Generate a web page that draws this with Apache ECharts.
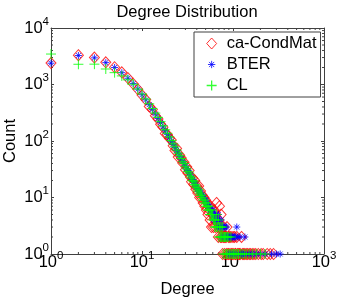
<!DOCTYPE html>
<html><head><meta charset="utf-8">
<script src="https://cdn.jsdelivr.net/npm/echarts@6/dist/echarts.min.js"></script>
<style>html,body{margin:0;padding:0;background:#fff}#c{width:359px;height:299px}</style>
</head><body><div id="c"></div>
<script>
// ---- data (degree, count) ----
const condDeg = [1,2,3,4,5,6,7,8,9,10,11,12,13,14,15,16,17,18,19,20,21,22,23,24,25,26,27,28,29,30,31,32,33,34,35,36,37,38,39,40,41,42,43,44,45,46,47,48,49,50,51,52,53,54,55,56,57,58,59,60,61,62,63,64,65,66,67,68,69,70,71,72,73,74,75,76,77,78,79,80,81,82,84,85,86,88,89,90,92,93,95,97,98,100,102,104,106,107,110,112,115,118,120,124,127,131,135,140,145,151,156,163,170,178,190,204,215,238,257,279];
const condCnt = [2400,3300,3000,2470,2020,1640,1300,1030,820,650,540,410,360,280,245,198,176,136,130,112,104,82,68,74,52,56,50,41,42,31,35,27,30,23,19,22,17,20,14,16,12,16,10,13,10,11,8,10,7,9,6,8,5,7,6,4,7,3,5,5,3,6,4,3,5,8,4,3,2,4,7,3,2,5,2,3,1,2,3,2,1,2,2,1,3,1,2,1,2,1,2,1,1,2,1,2,1,1,2,1,1,1,1,2,1,1,1,1,1,1,1,1,1,1,1,1,1,1,1,1];
const bterDeg = [1,2,3,4,5,6,7,8,9,10,11,12,13,14,15,16,17,18,19,20,21,22,23,24,25,26,27,28,29,30,31,32,33,34,35,36,37,38,39,40,41,42,43,44,45,46,47,48,49,50,51,52,53,54,55,56,57,58,59,60,61,62,63,64,65,66,67,68,69,70,71,72,73,74,75,76,77,78,79,80,81,82,83,84,85,86,87,88,89,90,91,92,93,95,96,98,99,101,103,104,106,108,110,113,116,119,123,127,130,135,142,150,158,170,183,200,225,265,300,330];
const bterCnt = [2380,3260,2960,2440,2000,1620,1290,1040,830,660,535,440,362,300,250,212,178,152,131,114,99,87,77,68,61,54,48,44,40,36,32,30,27,25,22,21,19,18,16,15,14,13,13,12,11,11,10,10,9,9,8,8,7,7,7,6,6,6,5,6,4,5,5,4,5,4,4,3,5,3,4,3,3,4,2,3,3,2,3,3,2,3,2,2,3,2,2,2,1,2,2,2,1,2,2,1,2,2,1,2,2,1,3,2,1,2,1,1,1,2,1,1,1,1,1,1,1,1,1,1];
const clDeg = [1,2,3,4,5,6,7,8,9,10,11,12,13,14,15,16,17,18,19,20,21,22,23,24,25,26,27,28,29,30,31,32,33,34,35,36,37,38,39,40,41,42,43,44,45,46,47,48,49,50,51,52,53,54,55,56,57,58,59,60,61,62,63,64,65,66,67,68,69,70,71,72,73,74,75,76,77,78,79,80,81,82,83,84,85,87,88,90,91,93,95,97,100,102,105,108,111,115,120,126,133,140,150,163,180,200,225];
const clCnt = [3460,2280,2290,1880,1620,1420,1210,1010,830,680,555,455,375,312,262,220,186,158,137,118,102,89,79,69,61,55,49,43,40,35,32,29,27,24,22,20,19,17,16,15,13,14,12,11,11,10,9,9,8,8,7,7,6,7,6,5,6,5,5,5,4,4,3,4,3,5,3,3,4,2,3,3,2,3,2,2,3,1,2,2,2,1,2,2,1,2,1,2,1,1,2,1,1,1,1,1,1,1,1,1,1,1,1,1,1,1,1];
const xTickVals = [1,10,100,1000];
const yTickVals = [1,10,100,1000,10000];
const xMinorVals = [2,3,4,5,6,7,8,9,20,30,40,50,60,70,80,90,200,300,400,500,600,700,800,900];
const yMinorVals = [2,3,4,5,6,7,8,9,20,30,40,50,60,70,80,90,200,300,400,500,600,700,800,900,2000,3000,4000,5000,6000,7000,8000,9000];
const seriesNames = ['ca-CondMat','BTER','CL'];
const titleText = 'Degree Distribution';
const xName = 'Degree';
const yName = 'Count';

const FONT = '"Liberation Sans", Arial, Helvetica, sans-serif';
const FS = 16.5;
const AX = '#404040';
const zip = (a, b) => a.map((v, i) => [v, b[i]]);

const rich = {
  b: {fontSize: FS, lineHeight: 25, verticalAlign: 'middle', fontFamily: FONT, color: '#000'},
  s: {fontSize: 11.5, lineHeight: 11, verticalAlign: 'top', fontFamily: FONT, color: '#000'}
};
const fmt = v => '{b|10}{s|' + Math.round(Math.log10(v)) + '}';

const baseAxis = (extra) => Object.assign({
  type: 'log', logBase: 10,
  axisLine: {show: true, onZero: false, lineStyle: {color: AX, width: 1}},
  axisTick: {show: true, inside: true, length: 3, lineStyle: {color: AX, width: 1}},
  splitLine: {show: false},
  minorTick: {show: false},
}, extra);

const ASTER = 'path://M0,-1L0,1M-1,0L1,0M-0.7,-0.7L0.7,0.7M-0.7,0.7L0.7,-0.7';
const ASTER_LEG = 'path://M-1.5,-1.5M1.5,1.5M0,-1L0,1M-1,0L1,0M-0.7,-0.7L0.7,0.7M-0.7,0.7L0.7,-0.7';
const PLUS = 'path://M0,-1L0,1M-1,0L1,0';
const PLUS_LEG = 'path://M-2,0M2,0M0,-1L0,1M-1,0L1,0';
const DIAM_LEG = 'path://M-1.8,0M1.8,0M0,-1L0.9,0L0,1L-0.9,0Z';

const tickLine = (x1, y1, x2, y2) => ({type: 'line', shape: {x1, y1, x2, y2}, style: {stroke: AX, lineWidth: 1}, silent: true});

const chart = echarts.init(document.getElementById('c'), null, {renderer: 'canvas'});
chart.setOption({
  animation: false,
  backgroundColor: '#fff',
  title: {
    text: titleText, left: 187, top: 4, textAlign: 'center', padding: 0,
    textStyle: {fontSize: FS, fontWeight: 'normal', color: '#000', fontFamily: FONT, lineHeight: 16}
  },
  grid: {left: 51, top: 28, width: 273, height: 226, containLabel: false, outerBoundsMode: 'none'},
  legend: {
    orient: 'vertical', left: 194, top: 32,
    padding: [3, 4, 3, 7], itemGap: 4, itemWidth: 20, itemHeight: 11,
    backgroundColor: '#fff', borderColor: AX, borderWidth: 1,
    textStyle: {fontSize: FS, color: '#000', fontFamily: FONT, lineHeight: 16},
    data: [
      {name: seriesNames[0], icon: DIAM_LEG, itemStyle: {color: 'rgba(0,0,0,0)', borderColor: '#ff0000', borderWidth: 1}},
      {name: seriesNames[1], icon: ASTER_LEG, itemStyle: {color: '#0000ff', borderColor: '#0000ff', borderWidth: 1}},
      {name: seriesNames[2], icon: PLUS_LEG, itemStyle: {color: '#00ff00', borderColor: '#00ff00', borderWidth: 1.3}}
    ],
    selectedMode: false
  },
  xAxis: [
    baseAxis({min: 1, max: 1000, position: 'bottom', name: xName, nameLocation: 'middle', nameGap: 27, nameMoveOverlap: false,
      nameTextStyle: {fontSize: FS, color: '#000', fontFamily: FONT, lineHeight: 16},
      axisLabel: {show: true, formatter: fmt, rich: rich, margin: -4, hideOverlap: false}}),
    baseAxis({min: 1, max: 1000, position: 'top', gridIndex: 0, axisLabel: {show: false}})
  ],
  yAxis: [
    baseAxis({min: 1, max: 10000, position: 'left', name: yName, nameLocation: 'middle', nameGap: 33, nameMoveOverlap: false,
      nameTextStyle: {fontSize: FS, color: '#000', fontFamily: FONT, lineHeight: 16},
      axisLabel: {show: true, formatter: fmt, rich: rich, margin: 2, hideOverlap: false}}),
    baseAxis({min: 1, max: 10000, position: 'right', gridIndex: 0, axisLabel: {show: false}})
  ],
  series: [
    {
      type: 'custom', name: 'xminor', silent: true, clip: false, z: 1,
      data: xMinorVals.map(v => [v, 1]),
      renderItem: (p, api) => {
        const v = api.value(0);
        const b = api.coord([v, 1]); const t = api.coord([v, 10000]);
        return {type: 'group', children: [tickLine(b[0], b[1], b[0], b[1] - 2), tickLine(t[0], t[1], t[0], t[1] + 2)]};
      }
    },
    {
      type: 'custom', name: 'yminor', silent: true, clip: false, z: 1,
      data: yMinorVals.map(v => [1, v]),
      renderItem: (p, api) => {
        const v = api.value(1);
        const l = api.coord([1, v]); const r = api.coord([1000, v]);
        return {type: 'group', children: [tickLine(l[0], l[1], l[0] + 2, l[1]), tickLine(r[0], r[1], r[0] - 2, r[1])]};
      }
    },
    {
      type: 'scatter', name: seriesNames[0], data: zip(condDeg, condCnt), clip: false,
      symbol: 'diamond', symbolSize: [10, 11],
      itemStyle: {color: 'rgba(0,0,0,0)', borderColor: '#ff0000', borderWidth: 1}
    },
    {
      type: 'scatter', name: seriesNames[1], data: zip(bterDeg, bterCnt), clip: false,
      symbol: ASTER, symbolSize: 7,
      itemStyle: {color: '#0000ff', borderColor: '#0000ff', borderWidth: 1}
    },
    {
      type: 'scatter', name: seriesNames[2], data: zip(clDeg, clCnt), clip: false,
      symbol: PLUS, symbolSize: 10,
      itemStyle: {color: '#00ff00', borderColor: '#00ff00', borderWidth: 1}
    }
  ]
});
</script>
</body></html>
